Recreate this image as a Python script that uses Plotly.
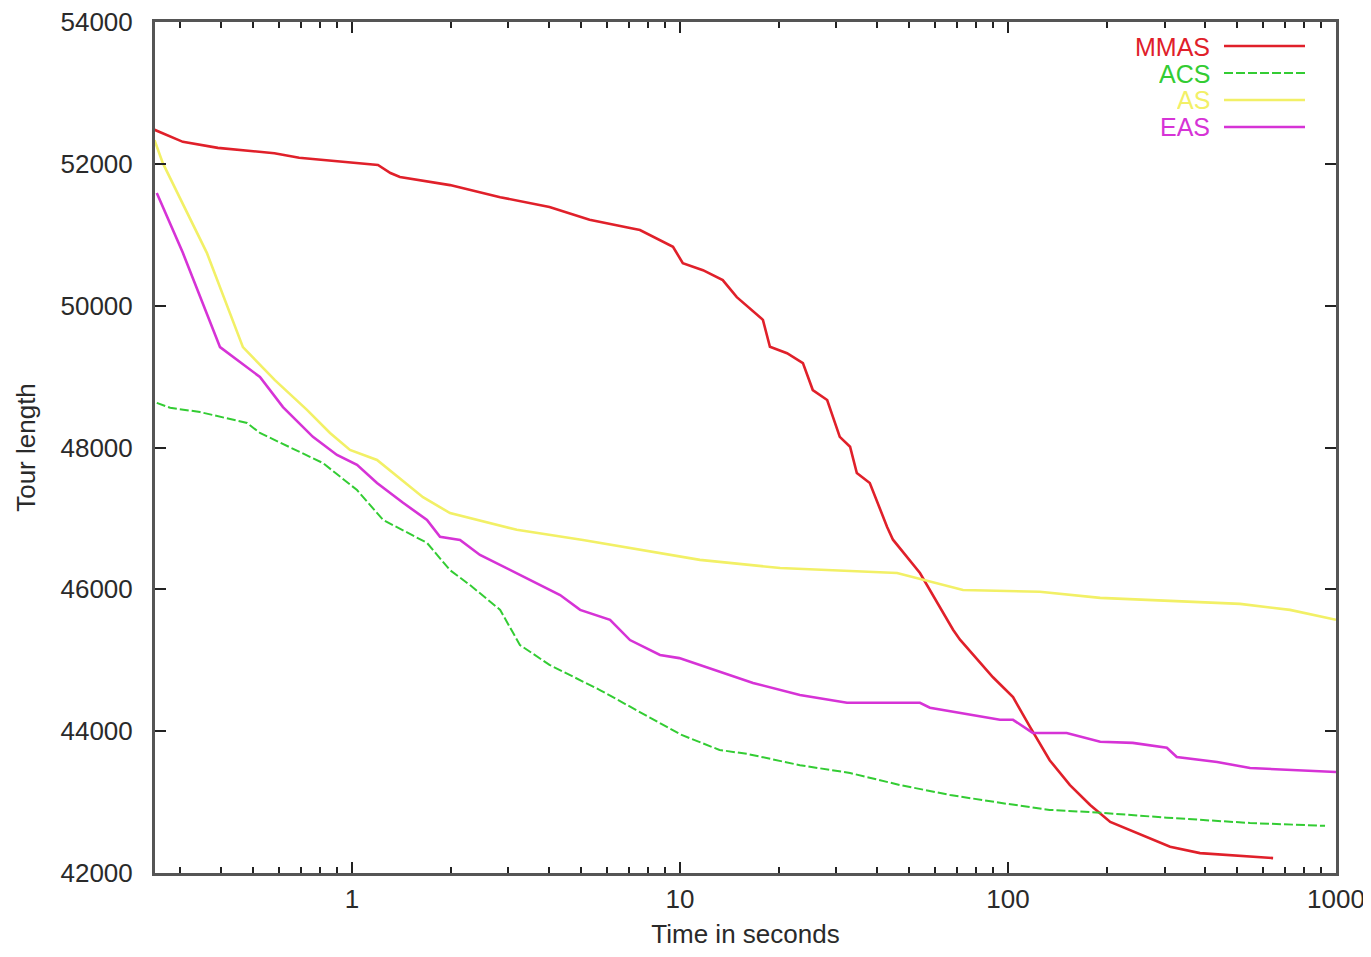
import plotly.graph_objects as go

# ---- data ----
mmas_t = [0.25, 0.305, 0.39, 0.58, 0.69, 0.99, 1.2, 1.31, 1.40, 1.99, 2.83, 4.0, 5.3, 7.04, 7.55,
          9.52, 10.2, 11.75, 13.5, 14.9, 17.9, 18.8, 21.2, 23.7, 25.4, 28.1, 30.7, 33.0, 34.6,
          37.9, 42.8, 44.6, 53.9, 68.0, 71.4, 90.0, 103.6, 116.7, 134.0, 154.5, 178.0, 205.0,
          253.0, 312.0, 385.0, 510.0, 643.0]
mmas_y = [52480, 52310, 52225, 52150, 52085, 52025, 51985, 51870, 51815, 51700, 51530, 51390,
          51210, 51095, 51067, 50830, 50600, 50500, 50360, 50120, 49800, 49420, 49330, 49190,
          48810, 48670, 48150, 48010, 47640, 47500, 46880, 46700, 46230, 45430, 45290, 44760,
          44480, 44060, 43590, 43240, 42960, 42720, 42540, 42370, 42280, 42240, 42210]

acs_t = [0.254, 0.279, 0.344, 0.479, 0.524, 0.694, 0.816, 1.036, 1.243, 1.693, 1.99, 2.29, 2.83,
         3.25, 4.0, 5.7, 7.55, 10.07, 13.2, 16.0, 23.2, 33.0, 46.9, 66.6, 94.5, 134.0, 191.0,
         305.0, 547.0, 926.0]
acs_y = [48630, 48560, 48500, 48345, 48205, 47940, 47780, 47400, 46980, 46655, 46270, 46060,
         45710, 45215, 44935, 44580, 44270, 43950, 43735, 43680, 43520, 43410, 43240, 43100,
         42990, 42890, 42850, 42780, 42705, 42665]

as_t = [0.25, 0.265, 0.361, 0.465, 0.582, 0.729, 0.857, 0.986, 1.192, 1.646, 1.99, 3.18, 5.06,
        11.5, 20.2, 45.9, 72.9, 125.0, 191.0, 385.0, 510.0, 724.0, 1000.0]
as_y = [52335, 52010, 50745, 49415, 48950, 48530, 48205, 47965, 47825, 47300, 47075, 46840,
        46695, 46415, 46300, 46230, 45990, 45965, 45880, 45820, 45795, 45710, 45570]

eas_t = [0.254, 0.305, 0.396, 0.524, 0.616, 0.760, 0.900, 1.036, 1.192, 1.431, 1.693, 1.855,
         2.135, 2.456, 3.25, 4.31, 4.96, 6.12, 7.04, 8.69, 9.95, 14.2, 16.7, 23.2, 32.3, 53.9,
         57.8, 94.5, 103.6, 119.0, 151.0, 191.0, 240.0, 305.0, 327.0, 434.0, 547.0, 1000.0]
eas_y = [51590, 50745, 49415, 48995, 48570, 48150, 47895, 47755, 47500, 47220, 46980, 46740,
         46695, 46485, 46205, 45920, 45710, 45570, 45285, 45075, 45030, 44795, 44680, 44510,
         44400, 44400, 44330, 44160, 44160, 43975, 43975, 43850, 43835, 43765, 43635, 43565,
         43480, 43425]

series_names = ["MMAS", "ACS", "AS", "EAS"]
series_colors = ["#e0202a", "#33cc33", "#f2f066", "#d633d6"]
series_dash = ["solid", "9px,3px", "solid", "solid"]
series_width = [2.6, 2.0, 2.6, 2.6]

x_tickvals = [1, 10, 100, 1000]
x_ticktext = ["1", "10", "100", "1000"]
y_tickvals = [42000, 44000, 46000, 48000, 50000, 52000, 54000]
y_ticktext = ["42000", "44000", "46000", "48000", "50000", "52000", "54000"]

data = [(mmas_t, mmas_y), (acs_t, acs_y), (as_t, as_y), (eas_t, eas_y)]

fig = go.Figure()
for (t, y), name, col, dash, w in zip(data, series_names, series_colors, series_dash, series_width):
    fig.add_trace(go.Scatter(x=t, y=y, mode="lines", name=name, showlegend=False,
                             line=dict(color=col, width=w, dash=dash)))

# page body has an 8px margin, so figure coordinates are offset by 8px
OFF = 8
FW, FH = 1371 - OFF, 957 - 2 * OFF
L, R, T, B = 155 - OFF, 1336 - OFF, 22 - OFF, 873 - OFF
W, H = R - L, B - T

# gnuplot-style key: right-aligned text followed by a line sample
key_rows = [46, 73, 100, 127]
for name, col, dash, w, py in zip(series_names, series_colors, series_dash, series_width, key_rows):
    yp = (B - (py - OFF)) / H
    fig.add_annotation(x=(1211 - OFF - L) / W, y=yp, xref="paper", yref="paper", text=name,
                       showarrow=False, xanchor="right", yanchor="middle", height=25,
                       borderpad=0,
                       font=dict(family="Liberation Sans, Arial, sans-serif", size=25, color=col))
    fig.add_shape(type="line", xref="paper", yref="paper",
                  x0=(1224 - OFF - L) / W, x1=(1305 - OFF - L) / W,
                  y0=yp, y1=yp, line=dict(color=col, width=w, dash=dash))

axis_font = dict(family="Liberation Sans, Arial, sans-serif", size=26, color="#2a2a2a")

fig.update_xaxes(type="log", range=[-0.6006, 3.0], tickvals=x_tickvals, ticktext=x_ticktext,
                 ticks="inside", ticklen=11, tickwidth=2, tickcolor="#222",
                 minor=dict(ticks="inside", ticklen=6, tickwidth=2, tickcolor="#222", dtick="D1"),
                 showgrid=False, zeroline=False, showline=True, linecolor="#555", linewidth=3,
                 mirror="allticks", tickfont=axis_font, ticklabelstandoff=1, automargin=False,
                 ticklabeloverflow="allow",
                 title=dict(text="Time in seconds", font=axis_font, standoff=12))
fig.update_yaxes(range=[42000, 54000], tickvals=y_tickvals, ticktext=y_ticktext,
                 ticks="inside", ticklen=11, tickwidth=2, tickcolor="#222",
                 showgrid=False, zeroline=False, showline=True, linecolor="#555", linewidth=3,
                 mirror="allticks", tickfont=axis_font, ticklabelstandoff=14, automargin=False,
                 ticklabeloverflow="allow",
                 title=dict(text="Tour length", font=axis_font, standoff=18))

fig.update_layout(width=FW, height=FH, margin=dict(l=L, r=FW - R, t=T, b=FH - B),
                  paper_bgcolor="white", plot_bgcolor="white", showlegend=False)

fig.write_html("out.html")
